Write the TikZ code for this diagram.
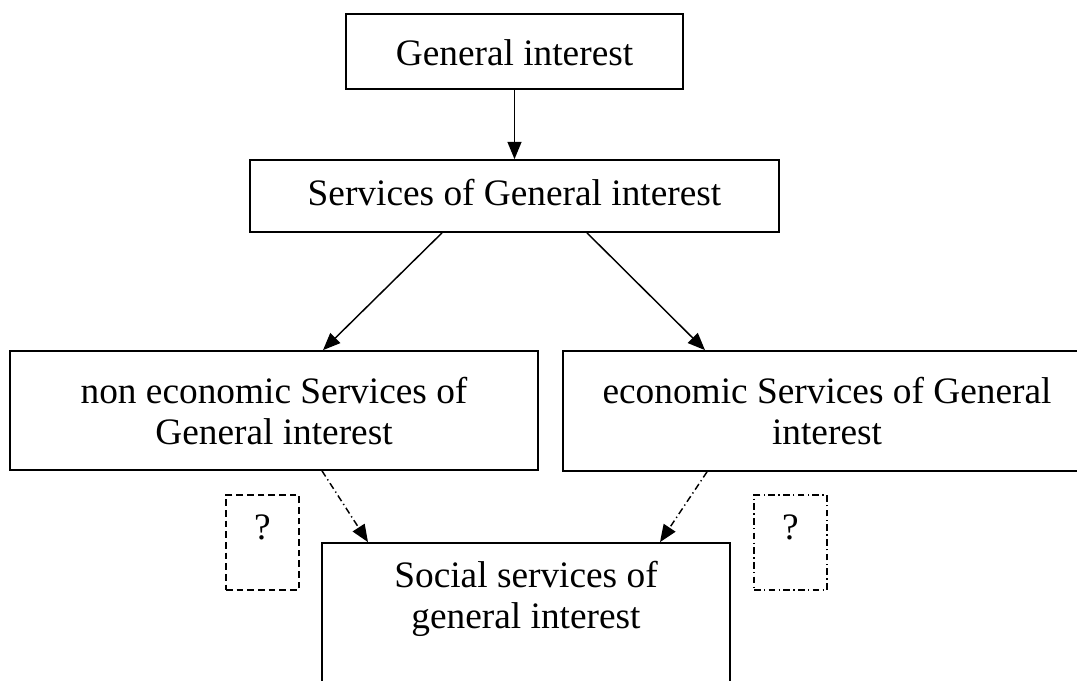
\documentclass[tikz,border=0pt]{standalone}
\usepackage{fontspec}
\setmainfont{Liberation Serif}
\usetikzlibrary{arrows.meta,fit}
\tikzset{every picture/.style={line width=0.75pt}}
\tikzset{
  box/.style={draw, line width=1.3pt, inner sep=0pt},
  qbox/.style={draw, line width=1.1pt, inner sep=0pt},
  boxtext/.style={font=\fontsize{28}{30.75}\selectfont, align=center, anchor=north, inner sep=0pt},
  link/.style={line width=1.1pt, -{Triangle[length=13pt,width=10.5pt]}},
  dashdot/.style={dash pattern=on 5pt off 2.5pt on 1pt off 2.5pt},
}

\begin{document}
\begin{tikzpicture}[x=0.75pt,y=0.75pt,yscale=-1]
\useasboundingbox (0,0) rectangle (1077,681);
\clip (0,0) rectangle (1077,681);

%Rectangle: top
\node[box, fit={(346,14) (683,89)}] (gi) {};
%Rectangle: second row
\node[box, fit={(250,160) (779,232)}] (sgi) {};
%Rectangle: left
\node[box, fit={(10,351) (538,470)}] (neco) {};
%Rectangle: right (runs past the page edge)
\node[box, fit={(563,351) (1091,471)}] (eco) {};
%Rectangle: bottom (runs past the page edge)
\node[box, fit={(322,543) (730,720)}] (ssgi) {};
%Rectangle: dashed question
\node[qbox, dashed, dash pattern=on 5pt off 3pt, fit={(226,495) (299,590)}] (qleft) {};
%Rectangle: dash-dot question
\node[qbox, dashdot, fit={(754,495) (827,590)}] (qright) {};

% Text Node
\node[boxtext] (gi-text) at (514.5,39.5) {General interest};
% Text Node
\node[boxtext] (sgi-text) at (514.5,179) {Services of General interest};
% Text Node
\node[boxtext] (neco-text) at (274,376.5) {non economic Services of\\General interest};
% Text Node
\node[boxtext] (eco-text) at (827,376.5) {economic Services of General\\interest};
% Text Node
\node[boxtext] (ssgi-text) at (526,560.5) {Social services of\\general interest};
% Text Node
\node[boxtext] (qleft-text) at (262.5,514) {?};
% Text Node
\node[boxtext] (qright-text) at (790.5,514) {?};

%Arrows
\draw[link] (gi) -- (sgi);
\draw[link] ([xshift=-54.375pt]sgi.south) -- ([xshift=36.75pt]neco.north);
\draw[link] ([xshift=54.375pt]sgi.south) -- ([xshift=-91.5pt]eco.north);
\draw[link, dashdot] ([xshift=36pt]neco.south) -- ([xshift=-118.5pt]ssgi.north);
\draw[link, dashdot] ([xshift=-90pt]eco.south) -- ([xshift=100.5pt]ssgi.north);

\end{tikzpicture}
\end{document}
